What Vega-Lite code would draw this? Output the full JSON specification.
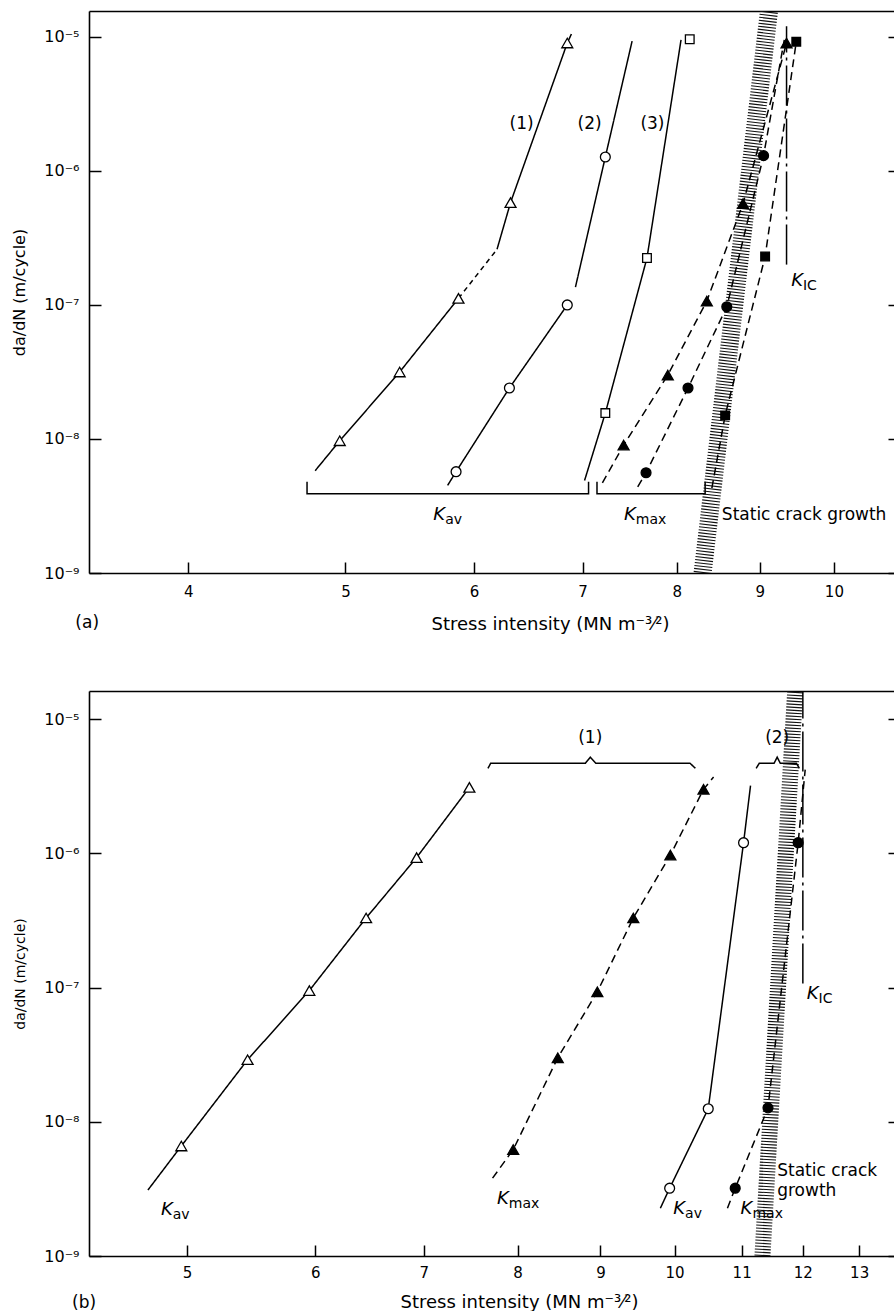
{
  "$schema": "https://vega.github.io/schema/vega-lite/v6.json",
  "padding": {"left": 11, "top": 11, "right": 0, "bottom": 0},
  "spacing": 58,
  "background": "white",
  "config": {
    "font": "DejaVu Sans",
    "view": {"stroke": null},
    "axis": {
      "domainColor": "black", "domainWidth": 1.6, "tickColor": "black", "tickWidth": 1.5,
      "labelColor": "black", "titleColor": "black", "labelFont": "DejaVu Sans", "titleFont": "DejaVu Sans",
      "titleFontWeight": "normal", "grid": false, "labelFontSize": 15, "titleFontSize": 18
    }
  },
  "resolve": {"scale": {"x": "independent", "y": "independent"}},
  "datasets": {
    "curves": [
      {"panel": "a", "curve": "a1s1", "kind": "K_av", "ord": 1, "K": 4.79, "rate": 5.8e-9},
      {"panel": "a", "curve": "a1s1", "kind": "K_av", "ord": 2, "K": 4.96, "rate": 9.7e-9},
      {"panel": "a", "curve": "a1s1", "kind": "K_av", "ord": 3, "K": 5.40, "rate": 3.16e-8},
      {"panel": "a", "curve": "a1s1", "kind": "K_av", "ord": 4, "K": 5.87, "rate": 1.12e-7},
      {"panel": "a", "curve": "a1d", "kind": "K_av uncertain", "ord": 1, "K": 5.87, "rate": 1.12e-7},
      {"panel": "a", "curve": "a1d", "kind": "K_av uncertain", "ord": 2, "K": 6.20, "rate": 2.6e-7},
      {"panel": "a", "curve": "a1s2", "kind": "K_av", "ord": 1, "K": 6.20, "rate": 2.6e-7},
      {"panel": "a", "curve": "a1s2", "kind": "K_av", "ord": 2, "K": 6.32, "rate": 5.8e-7},
      {"panel": "a", "curve": "a1s2", "kind": "K_av", "ord": 3, "K": 6.85, "rate": 9.0e-6},
      {"panel": "a", "curve": "a1s2", "kind": "K_av", "ord": 4, "K": 6.89, "rate": 1.05e-5},
      {"panel": "a", "curve": "a2s1", "kind": "K_av", "ord": 1, "K": 5.78, "rate": 4.5e-9},
      {"panel": "a", "curve": "a2s1", "kind": "K_av", "ord": 2, "K": 5.85, "rate": 5.7e-9},
      {"panel": "a", "curve": "a2s1", "kind": "K_av", "ord": 3, "K": 6.31, "rate": 2.4e-8},
      {"panel": "a", "curve": "a2s1", "kind": "K_av", "ord": 4, "K": 6.85, "rate": 1.0e-7},
      {"panel": "a", "curve": "a2s2", "kind": "K_av", "ord": 1, "K": 6.93, "rate": 1.36e-7},
      {"panel": "a", "curve": "a2s2", "kind": "K_av", "ord": 2, "K": 7.23, "rate": 1.27e-6},
      {"panel": "a", "curve": "a2s2", "kind": "K_av", "ord": 3, "K": 7.51, "rate": 9.3e-6},
      {"panel": "a", "curve": "a3", "kind": "K_av", "ord": 1, "K": 7.02, "rate": 4.9e-9},
      {"panel": "a", "curve": "a3", "kind": "K_av", "ord": 2, "K": 7.23, "rate": 1.56e-8},
      {"panel": "a", "curve": "a3", "kind": "K_av", "ord": 3, "K": 7.67, "rate": 2.24e-7},
      {"panel": "a", "curve": "a3", "kind": "K_av", "ord": 4, "K": 8.05, "rate": 9.5e-6},
      {"panel": "a", "curve": "a4", "kind": "K_max", "ord": 1, "K": 7.20, "rate": 4.7e-9},
      {"panel": "a", "curve": "a4", "kind": "K_max", "ord": 2, "K": 7.42, "rate": 9.0e-9},
      {"panel": "a", "curve": "a4", "kind": "K_max", "ord": 3, "K": 7.90, "rate": 3.0e-8},
      {"panel": "a", "curve": "a4", "kind": "K_max", "ord": 4, "K": 8.35, "rate": 1.07e-7},
      {"panel": "a", "curve": "a4", "kind": "K_max", "ord": 5, "K": 8.79, "rate": 5.7e-7},
      {"panel": "a", "curve": "a4", "kind": "K_max", "ord": 6, "K": 9.35, "rate": 9.0e-6},
      {"panel": "a", "curve": "a5", "kind": "K_max", "ord": 1, "K": 7.57, "rate": 4.4e-9},
      {"panel": "a", "curve": "a5", "kind": "K_max", "ord": 2, "K": 7.66, "rate": 5.6e-9},
      {"panel": "a", "curve": "a5", "kind": "K_max", "ord": 3, "K": 8.13, "rate": 2.4e-8},
      {"panel": "a", "curve": "a5", "kind": "K_max", "ord": 4, "K": 8.59, "rate": 9.7e-8},
      {"panel": "a", "curve": "a5", "kind": "K_max", "ord": 5, "K": 9.05, "rate": 1.3e-6},
      {"panel": "a", "curve": "a5", "kind": "K_max", "ord": 6, "K": 9.32, "rate": 9.5e-6},
      {"panel": "a", "curve": "a6", "kind": "K_max", "ord": 1, "K": 8.41, "rate": 4.3e-9},
      {"panel": "a", "curve": "a6", "kind": "K_max", "ord": 2, "K": 8.57, "rate": 1.5e-8},
      {"panel": "a", "curve": "a6", "kind": "K_max", "ord": 3, "K": 9.07, "rate": 2.3e-7},
      {"panel": "a", "curve": "a6", "kind": "K_max", "ord": 4, "K": 9.48, "rate": 9.2e-6},
      {"panel": "a", "curve": "aK", "kind": "K_IC", "ord": 1, "K": 9.35, "rate": 2.0e-7},
      {"panel": "a", "curve": "aK", "kind": "K_IC", "ord": 2, "K": 9.35, "rate": 1.2e-5},
      {"panel": "a", "curve": "aB1", "kind": "bracket", "ord": 1, "K": 4.735, "rate": 4.8e-9},
      {"panel": "a", "curve": "aB1", "kind": "bracket", "ord": 2, "K": 4.735, "rate": 3.9e-9},
      {"panel": "a", "curve": "aB1", "kind": "bracket", "ord": 3, "K": 7.06, "rate": 3.9e-9},
      {"panel": "a", "curve": "aB1", "kind": "bracket", "ord": 4, "K": 7.06, "rate": 4.8e-9},
      {"panel": "a", "curve": "aB2", "kind": "bracket", "ord": 1, "K": 7.145, "rate": 4.8e-9},
      {"panel": "a", "curve": "aB2", "kind": "bracket", "ord": 2, "K": 7.145, "rate": 3.9e-9},
      {"panel": "a", "curve": "aB2", "kind": "bracket", "ord": 3, "K": 8.33, "rate": 3.9e-9},
      {"panel": "a", "curve": "aB2", "kind": "bracket", "ord": 4, "K": 8.33, "rate": 4.8e-9},
      {"panel": "b", "curve": "b1", "kind": "K_av", "ord": 1, "K": 4.73, "rate": 3.1e-9},
      {"panel": "b", "curve": "b1", "kind": "K_av", "ord": 2, "K": 4.96, "rate": 6.6e-9},
      {"panel": "b", "curve": "b1", "kind": "K_av", "ord": 3, "K": 5.45, "rate": 2.9e-8},
      {"panel": "b", "curve": "b1", "kind": "K_av", "ord": 4, "K": 5.95, "rate": 9.5e-8},
      {"panel": "b", "curve": "b1", "kind": "K_av", "ord": 5, "K": 6.45, "rate": 3.3e-7},
      {"panel": "b", "curve": "b1", "kind": "K_av", "ord": 6, "K": 6.93, "rate": 9.3e-7},
      {"panel": "b", "curve": "b1", "kind": "K_av", "ord": 7, "K": 7.47, "rate": 3.1e-6},
      {"panel": "b", "curve": "b2", "kind": "K_max", "ord": 1, "K": 7.72, "rate": 3.8e-9},
      {"panel": "b", "curve": "b2", "kind": "K_max", "ord": 2, "K": 7.95, "rate": 6.2e-9},
      {"panel": "b", "curve": "b2", "kind": "K_max", "ord": 3, "K": 8.47, "rate": 3.0e-8},
      {"panel": "b", "curve": "b2", "kind": "K_max", "ord": 4, "K": 8.96, "rate": 9.3e-8},
      {"panel": "b", "curve": "b2", "kind": "K_max", "ord": 5, "K": 9.43, "rate": 3.3e-7},
      {"panel": "b", "curve": "b2", "kind": "K_max", "ord": 6, "K": 9.94, "rate": 9.7e-7},
      {"panel": "b", "curve": "b2", "kind": "K_max", "ord": 7, "K": 10.42, "rate": 3.0e-6},
      {"panel": "b", "curve": "b2", "kind": "K_max", "ord": 8, "K": 10.57, "rate": 3.7e-6},
      {"panel": "b", "curve": "b3", "kind": "K_av", "ord": 1, "K": 9.80, "rate": 2.27e-9},
      {"panel": "b", "curve": "b3", "kind": "K_av", "ord": 2, "K": 9.93, "rate": 3.2e-9},
      {"panel": "b", "curve": "b3", "kind": "K_av", "ord": 3, "K": 10.49, "rate": 1.25e-8},
      {"panel": "b", "curve": "b3", "kind": "K_av", "ord": 4, "K": 11.03, "rate": 1.2e-6},
      {"panel": "b", "curve": "b3", "kind": "K_av", "ord": 5, "K": 11.14, "rate": 3.2e-6},
      {"panel": "b", "curve": "b4", "kind": "K_max", "ord": 1, "K": 10.78, "rate": 2.27e-9},
      {"panel": "b", "curve": "b4", "kind": "K_max", "ord": 2, "K": 10.90, "rate": 3.2e-9},
      {"panel": "b", "curve": "b4", "kind": "K_max", "ord": 3, "K": 11.42, "rate": 1.27e-8},
      {"panel": "b", "curve": "b4", "kind": "K_max", "ord": 4, "K": 11.92, "rate": 1.2e-6},
      {"panel": "b", "curve": "b4", "kind": "K_max", "ord": 5, "K": 12.04, "rate": 4.2e-6},
      {"panel": "b", "curve": "bK", "kind": "K_IC", "ord": 1, "K": 12.0, "rate": 1.07e-7},
      {"panel": "b", "curve": "bK", "kind": "K_IC", "ord": 2, "K": 12.0, "rate": 1.62e-5},
      {"panel": "b", "curve": "bB1", "kind": "bracket", "ord": 1, "K": 7.67, "rate": 4.3e-6},
      {"panel": "b", "curve": "bB1", "kind": "bracket", "ord": 2, "K": 7.70, "rate": 4.7e-6},
      {"panel": "b", "curve": "bB1", "kind": "bracket", "ord": 3, "K": 8.81, "rate": 4.7e-6},
      {"panel": "b", "curve": "bB1", "kind": "bracket", "ord": 4, "K": 8.87, "rate": 5.2e-6},
      {"panel": "b", "curve": "bB1", "kind": "bracket", "ord": 5, "K": 8.94, "rate": 4.7e-6},
      {"panel": "b", "curve": "bB1", "kind": "bracket", "ord": 6, "K": 10.22, "rate": 4.7e-6},
      {"panel": "b", "curve": "bB1", "kind": "bracket", "ord": 7, "K": 10.30, "rate": 4.3e-6},
      {"panel": "b", "curve": "bB2", "kind": "bracket", "ord": 1, "K": 11.23, "rate": 4.3e-6},
      {"panel": "b", "curve": "bB2", "kind": "bracket", "ord": 2, "K": 11.28, "rate": 4.7e-6},
      {"panel": "b", "curve": "bB2", "kind": "bracket", "ord": 3, "K": 11.52, "rate": 4.7e-6},
      {"panel": "b", "curve": "bB2", "kind": "bracket", "ord": 4, "K": 11.57, "rate": 5.2e-6},
      {"panel": "b", "curve": "bB2", "kind": "bracket", "ord": 5, "K": 11.62, "rate": 4.7e-6},
      {"panel": "b", "curve": "bB2", "kind": "bracket", "ord": 6, "K": 11.89, "rate": 4.7e-6},
      {"panel": "b", "curve": "bB2", "kind": "bracket", "ord": 7, "K": 11.94, "rate": 4.3e-6}
    ],
    "points": [
      {"panel": "a", "marker": "triangle", "measure": "K_av", "K": 4.96, "rate": 9.7e-9},
      {"panel": "a", "marker": "triangle", "measure": "K_av", "K": 5.40, "rate": 3.16e-8},
      {"panel": "a", "marker": "triangle", "measure": "K_av", "K": 5.87, "rate": 1.12e-7},
      {"panel": "a", "marker": "triangle", "measure": "K_av", "K": 6.32, "rate": 5.8e-7},
      {"panel": "a", "marker": "triangle", "measure": "K_av", "K": 6.85, "rate": 9.0e-6},
      {"panel": "a", "marker": "circle", "measure": "K_av", "K": 5.85, "rate": 5.7e-9},
      {"panel": "a", "marker": "circle", "measure": "K_av", "K": 6.31, "rate": 2.4e-8},
      {"panel": "a", "marker": "circle", "measure": "K_av", "K": 6.85, "rate": 1.0e-7},
      {"panel": "a", "marker": "circle", "measure": "K_av", "K": 7.23, "rate": 1.27e-6},
      {"panel": "a", "marker": "square", "measure": "K_av", "K": 7.23, "rate": 1.56e-8},
      {"panel": "a", "marker": "square", "measure": "K_av", "K": 7.67, "rate": 2.24e-7},
      {"panel": "a", "marker": "square", "measure": "K_av", "K": 8.15, "rate": 9.6e-6},
      {"panel": "a", "marker": "triangle", "measure": "K_max", "K": 7.42, "rate": 9.0e-9},
      {"panel": "a", "marker": "triangle", "measure": "K_max", "K": 7.90, "rate": 3.0e-8},
      {"panel": "a", "marker": "triangle", "measure": "K_max", "K": 8.35, "rate": 1.07e-7},
      {"panel": "a", "marker": "triangle", "measure": "K_max", "K": 8.79, "rate": 5.7e-7},
      {"panel": "a", "marker": "triangle", "measure": "K_max", "K": 9.35, "rate": 9.0e-6},
      {"panel": "a", "marker": "circle", "measure": "K_max", "K": 7.66, "rate": 5.6e-9},
      {"panel": "a", "marker": "circle", "measure": "K_max", "K": 8.13, "rate": 2.4e-8},
      {"panel": "a", "marker": "circle", "measure": "K_max", "K": 8.59, "rate": 9.7e-8},
      {"panel": "a", "marker": "circle", "measure": "K_max", "K": 9.05, "rate": 1.3e-6},
      {"panel": "a", "marker": "square", "measure": "K_max", "K": 8.57, "rate": 1.5e-8},
      {"panel": "a", "marker": "square", "measure": "K_max", "K": 9.07, "rate": 2.3e-7},
      {"panel": "a", "marker": "square", "measure": "K_max", "K": 9.48, "rate": 9.2e-6},
      {"panel": "b", "marker": "triangle", "measure": "K_av", "K": 4.96, "rate": 6.6e-9},
      {"panel": "b", "marker": "triangle", "measure": "K_av", "K": 5.45, "rate": 2.9e-8},
      {"panel": "b", "marker": "triangle", "measure": "K_av", "K": 5.95, "rate": 9.5e-8},
      {"panel": "b", "marker": "triangle", "measure": "K_av", "K": 6.45, "rate": 3.3e-7},
      {"panel": "b", "marker": "triangle", "measure": "K_av", "K": 6.93, "rate": 9.3e-7},
      {"panel": "b", "marker": "triangle", "measure": "K_av", "K": 7.47, "rate": 3.1e-6},
      {"panel": "b", "marker": "triangle", "measure": "K_max", "K": 7.95, "rate": 6.2e-9},
      {"panel": "b", "marker": "triangle", "measure": "K_max", "K": 8.47, "rate": 3.0e-8},
      {"panel": "b", "marker": "triangle", "measure": "K_max", "K": 8.96, "rate": 9.3e-8},
      {"panel": "b", "marker": "triangle", "measure": "K_max", "K": 9.43, "rate": 3.3e-7},
      {"panel": "b", "marker": "triangle", "measure": "K_max", "K": 9.94, "rate": 9.7e-7},
      {"panel": "b", "marker": "triangle", "measure": "K_max", "K": 10.42, "rate": 3.0e-6},
      {"panel": "b", "marker": "circle", "measure": "K_av", "K": 9.93, "rate": 3.2e-9},
      {"panel": "b", "marker": "circle", "measure": "K_av", "K": 10.49, "rate": 1.25e-8},
      {"panel": "b", "marker": "circle", "measure": "K_av", "K": 11.03, "rate": 1.2e-6},
      {"panel": "b", "marker": "circle", "measure": "K_max", "K": 10.90, "rate": 3.2e-9},
      {"panel": "b", "marker": "circle", "measure": "K_max", "K": 11.42, "rate": 1.27e-8},
      {"panel": "b", "marker": "circle", "measure": "K_max", "K": 11.92, "rate": 1.2e-6}
    ],
    "bands": [
      {"panel": "a", "K": 8.30, "rate": 1e-9},
      {"panel": "a", "K": 9.12, "rate": 1.56e-5},
      {"panel": "b", "K": 11.33, "rate": 1e-9},
      {"panel": "b", "K": 11.87, "rate": 1.62e-5}
    ],
    "labels": [
      {"panel": "a", "pos": "center", "text": "(1)", "K": 6.42, "rate": 2.24e-6},
      {"panel": "a", "pos": "center", "text": "(2)", "K": 7.07, "rate": 2.24e-6},
      {"panel": "a", "pos": "center", "text": "(3)", "K": 7.73, "rate": 2.24e-6},
      {"panel": "a", "pos": "left", "text": "Static crack growth", "K": 8.53, "rate": 2.7e-9},
      {"panel": "a", "pos": "center", "text": "(a)", "K": 3.466, "rate": 4.24e-10},
      {"panel": "b", "pos": "center", "text": "(1)", "K": 8.87, "rate": 7.2e-6},
      {"panel": "b", "pos": "center", "text": "(2)", "K": 11.57, "rate": 7.2e-6},
      {"panel": "b", "pos": "left", "text": "Static crack", "K": 11.57, "rate": 4.27e-9},
      {"panel": "b", "pos": "left", "text": "growth", "K": 11.57, "rate": 3.03e-9},
      {"panel": "b", "pos": "center", "text": "(b)", "K": 4.32, "rate": 4.49e-10}
    ],
    "klabels": [
      {"panel": "a", "sub": "av", "K": 5.76, "rate": 2.7e-9},
      {"panel": "a", "sub": "max", "K": 7.55, "rate": 2.7e-9},
      {"panel": "a", "sub": "IC", "K": 9.57, "rate": 1.5e-7},
      {"panel": "b", "sub": "av", "K": 4.90, "rate": 2.2e-9},
      {"panel": "b", "sub": "max", "K": 7.90, "rate": 2.64e-9},
      {"panel": "b", "sub": "av", "K": 10.15, "rate": 2.23e-9},
      {"panel": "b", "sub": "max", "K": 11.17, "rate": 2.23e-9},
      {"panel": "b", "sub": "IC", "K": 12.27, "rate": 8.9e-8}
    ]
  },
  "vconcat": [
    {
      "width": 805,
      "height": 562,
      "encoding": {
        "x": {"field": "K", "type": "quantitative", "scale": {"type": "log", "domain": [3.475, 10.89], "nice": false, "zero": false}, "axis": null},
        "y": {"field": "rate", "type": "quantitative", "scale": {"type": "log", "domain": [1e-9, 1.56e-5], "nice": false}, "axis": null}
      },
      "layer": [
        {
          "data": {"name": "bands"},
          "transform": [{"filter": "datum.panel === 'a'"}],
          "mark": {"type": "line", "strokeWidth": 18, "strokeDash": [1.1, 1.9], "strokeCap": "butt", "strokeJoin": "bevel", "color": "#111111", "clip": true},
          "encoding": {
            "x": {"field": "K", "type": "quantitative", "scale": {"type": "log", "domain": [3.475, 10.89], "nice": false, "zero": false},
              "axis": {"orient": "bottom", "values": [4, 5, 6, 7, 8, 9, 10], "format": "d", "tickSize": -11, "labelPadding": 22, "labelFontSize": 15,
                "title": "Stress intensity (MN m⁻³⁄²)", "titleFontSize": 18, "titlePadding": 16, "titleX": 461}},
            "y": {"field": "rate", "type": "quantitative", "scale": {"type": "log", "domain": [1e-9, 1.56e-5], "nice": false},
              "axis": {"orient": "left", "values": [1e-9, 1e-8, 1e-7, 1e-6, 1e-5], "tickSize": -12, "labelPadding": 22, "labelFontSize": 16,
                "labelExpr": "datum.value < 3e-9 ? '10⁻⁹' : datum.value < 3e-8 ? '10⁻⁸' : datum.value < 3e-7 ? '10⁻⁷' : datum.value < 3e-6 ? '10⁻⁶' : '10⁻⁵'",
                "title": "da/dN (m/cycle)", "titleFontSize": 16, "titleX": -62}}
          }
        },
        {
          "data": {"name": "curves"},
          "transform": [{"filter": "datum.panel === 'a'"}],
          "mark": {"type": "line", "strokeWidth": 1.5, "color": "black", "clip": true},
          "encoding": {
            "x": {"field": "K", "type": "quantitative", "scale": {"type": "log", "domain": [3.475, 10.89], "nice": false, "zero": false},
              "axis": {"orient": "top", "labels": false, "ticks": false, "title": null, "minExtent": 0, "maxExtent": 0}},
            "y": {"field": "rate", "type": "quantitative", "scale": {"type": "log", "domain": [1e-9, 1.56e-5], "nice": false},
              "axis": {"orient": "right", "labels": false, "domain": false, "tickSize": -6, "values": [1e-9, 1e-8, 1e-7, 1e-6, 1e-5], "title": null, "minExtent": 0, "maxExtent": 0}},
            "detail": {"field": "curve", "type": "nominal"},
            "order": {"field": "ord", "type": "quantitative"},
            "strokeDash": {"field": "kind", "type": "nominal", "legend": null,
              "scale": {"domain": ["K_av", "K_av uncertain", "K_max", "K_IC", "bracket"], "range": [[1, 0], [5, 4], [8, 5], [40, 5, 3, 5], [1, 0]]}}
          }
        },
        {
          "data": {"name": "points"},
          "transform": [{"filter": "datum.panel === 'a'"}],
          "mark": {"type": "point", "filled": true, "stroke": "black", "strokeWidth": 1.3, "opacity": 1},
          "encoding": {
            "shape": {"field": "marker", "type": "nominal", "legend": null, "scale": {"domain": ["triangle", "circle", "square"], "range": ["triangle-up", "circle", "square"]}},
            "size": {"field": "marker", "type": "nominal", "legend": null, "scale": {"domain": ["triangle", "circle", "square"], "range": [120, 75, 70]}},
            "fill": {"field": "measure", "type": "nominal", "legend": null, "scale": {"domain": ["K_av", "K_max"], "range": ["white", "black"]}}
          }
        },
        {
          "data": {"name": "labels"},
          "transform": [{"filter": "datum.panel === 'a' && datum.pos === 'center'"}],
          "mark": {"type": "text", "fontSize": 17, "align": "center", "baseline": "middle", "color": "black"},
          "encoding": {"text": {"field": "text"}}
        },
        {
          "data": {"name": "labels"},
          "transform": [{"filter": "datum.panel === 'a' && datum.pos === 'left'"}],
          "mark": {"type": "text", "fontSize": 17, "align": "left", "baseline": "middle", "color": "black"},
          "encoding": {"text": {"field": "text"}}
        },
        {
          "data": {"name": "klabels"},
          "transform": [{"filter": "datum.panel === 'a'"}],
          "mark": {"type": "text", "fontSize": 18, "fontStyle": "italic", "align": "right", "baseline": "middle", "color": "black", "text": "K"}
        },
        {
          "data": {"name": "klabels"},
          "transform": [{"filter": "datum.panel === 'a'"}],
          "mark": {"type": "text", "fontSize": 14, "align": "left", "baseline": "middle", "dy": 5, "color": "black"},
          "encoding": {"text": {"field": "sub"}}
        }
      ],
      "resolve": {"axis": {"x": "independent", "y": "independent"}}
    },
    {
      "width": 805,
      "height": 565,
      "encoding": {
        "x": {"field": "K", "type": "quantitative", "scale": {"type": "log", "domain": [4.35, 13.66], "nice": false, "zero": false}, "axis": null},
        "y": {"field": "rate", "type": "quantitative", "scale": {"type": "log", "domain": [1e-9, 1.62e-5], "nice": false}, "axis": null}
      },
      "layer": [
        {
          "data": {"name": "bands"},
          "transform": [{"filter": "datum.panel === 'b'"}],
          "mark": {"type": "line", "strokeWidth": 16, "strokeDash": [1.1, 1.9], "strokeCap": "butt", "strokeJoin": "bevel", "color": "#111111", "clip": true},
          "encoding": {
            "x": {"field": "K", "type": "quantitative", "scale": {"type": "log", "domain": [4.35, 13.66], "nice": false, "zero": false},
              "axis": {"orient": "bottom", "values": [5, 6, 7, 8, 9, 10, 11, 12, 13], "format": "d", "tickSize": -11, "labelPadding": 20, "labelFontSize": 15,
                "title": "Stress intensity (MN m⁻³⁄²)", "titleFontSize": 18, "titlePadding": 13, "titleX": 430}},
            "y": {"field": "rate", "type": "quantitative", "scale": {"type": "log", "domain": [1e-9, 1.62e-5], "nice": false},
              "axis": {"orient": "left", "values": [1e-9, 1e-8, 1e-7, 1e-6, 1e-5], "tickSize": -12, "labelPadding": 22, "labelFontSize": 16,
                "labelExpr": "datum.value < 3e-9 ? '10⁻⁹' : datum.value < 3e-8 ? '10⁻⁸' : datum.value < 3e-7 ? '10⁻⁷' : datum.value < 3e-6 ? '10⁻⁶' : '10⁻⁵'",
                "title": "da/dN (m/cycle)", "titleFontSize": 14, "titleX": -62}}
          }
        },
        {
          "data": {"name": "curves"},
          "transform": [{"filter": "datum.panel === 'b'"}],
          "mark": {"type": "line", "strokeWidth": 1.5, "color": "black", "clip": true},
          "encoding": {
            "x": {"field": "K", "type": "quantitative", "scale": {"type": "log", "domain": [4.35, 13.66], "nice": false, "zero": false},
              "axis": {"orient": "top", "labels": false, "ticks": false, "title": null, "minExtent": 0, "maxExtent": 0}},
            "y": {"field": "rate", "type": "quantitative", "scale": {"type": "log", "domain": [1e-9, 1.62e-5], "nice": false},
              "axis": {"orient": "right", "labels": false, "domain": false, "tickSize": -6, "values": [1e-9, 1e-8, 1e-7, 1e-6, 1e-5], "title": null, "minExtent": 0, "maxExtent": 0}},
            "detail": {"field": "curve", "type": "nominal"},
            "order": {"field": "ord", "type": "quantitative"},
            "strokeDash": {"field": "kind", "type": "nominal", "legend": null,
              "scale": {"domain": ["K_av", "K_av uncertain", "K_max", "K_IC", "bracket"], "range": [[1, 0], [5, 4], [8, 5], [40, 5, 3, 5], [1, 0]]}}
          }
        },
        {
          "data": {"name": "points"},
          "transform": [{"filter": "datum.panel === 'b'"}],
          "mark": {"type": "point", "filled": true, "stroke": "black", "strokeWidth": 1.3, "opacity": 1},
          "encoding": {
            "shape": {"field": "marker", "type": "nominal", "legend": null, "scale": {"domain": ["triangle", "circle", "square"], "range": ["triangle-up", "circle", "square"]}},
            "size": {"field": "marker", "type": "nominal", "legend": null, "scale": {"domain": ["triangle", "circle", "square"], "range": [120, 75, 70]}},
            "fill": {"field": "measure", "type": "nominal", "legend": null, "scale": {"domain": ["K_av", "K_max"], "range": ["white", "black"]}}
          }
        },
        {
          "data": {"name": "labels"},
          "transform": [{"filter": "datum.panel === 'b' && datum.pos === 'center'"}],
          "mark": {"type": "text", "fontSize": 17, "align": "center", "baseline": "middle", "color": "black"},
          "encoding": {"text": {"field": "text"}}
        },
        {
          "data": {"name": "labels"},
          "transform": [{"filter": "datum.panel === 'b' && datum.pos === 'left'"}],
          "mark": {"type": "text", "fontSize": 17, "align": "left", "baseline": "middle", "color": "black"},
          "encoding": {"text": {"field": "text"}}
        },
        {
          "data": {"name": "klabels"},
          "transform": [{"filter": "datum.panel === 'b'"}],
          "mark": {"type": "text", "fontSize": 18, "fontStyle": "italic", "align": "right", "baseline": "middle", "color": "black", "text": "K"}
        },
        {
          "data": {"name": "klabels"},
          "transform": [{"filter": "datum.panel === 'b'"}],
          "mark": {"type": "text", "fontSize": 14, "align": "left", "baseline": "middle", "dy": 5, "color": "black"},
          "encoding": {"text": {"field": "sub"}}
        }
      ],
      "resolve": {"axis": {"x": "independent", "y": "independent"}}
    }
  ]
}
